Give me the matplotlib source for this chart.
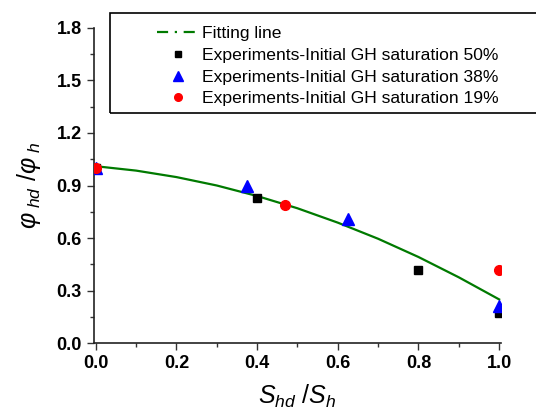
import matplotlib
matplotlib.use("Agg")
import matplotlib.pyplot as plt
from matplotlib.lines import Line2D
from matplotlib.patches import Rectangle
from matplotlib.ticker import MultipleLocator

plt.rcParams['font.family'] = ['Liberation Sans', 'DejaVu Sans']
plt.rcParams['mathtext.fontset'] = 'custom'
plt.rcParams['mathtext.it'] = 'Liberation Sans:italic'
plt.rcParams['mathtext.rm'] = 'Liberation Sans'

# Fitting line
fit_x = [0.0, 0.1, 0.2, 0.3, 0.4, 0.5, 0.6, 0.7, 0.8, 0.9, 1.0]
fit_y = [1.01, 0.985, 0.948, 0.900, 0.840, 0.770, 0.688, 0.596, 0.492, 0.376, 0.25]

# Experiments
s50_x = [0.0, 0.4, 0.8, 1.0]
s50_y = [1.0, 0.83, 0.42, 0.17]
s38_x = [0.0, 0.375, 0.625, 1.0]
s38_y = [1.0, 0.90, 0.71, 0.21]
s19_x = [0.0, 0.47, 1.0]
s19_y = [1.0, 0.79, 0.42]

labels = ["Fitting line",
          "Experiments-Initial GH saturation 50%",
          "Experiments-Initial GH saturation 38%",
          "Experiments-Initial GH saturation 19%"]
xticks = [0.0, 0.2, 0.4, 0.6, 0.8, 1.0]
yticks = [0.0, 0.3, 0.6, 0.9, 1.2, 1.5, 1.8]

W, H = 536, 415
fig = plt.figure(figsize=(W / 100, H / 100), dpi=100)
ax = fig.add_axes([0.175, 0.173, 0.76, 0.76])

green = '#007a00'
ax.plot(fit_x, fit_y, color=green, lw=1.6, zorder=2)
ax.plot(s50_x, s50_y, 's', color='black', ms=6, zorder=3)
ax.plot(s38_x, s38_y, '^', color='#0000ff', ms=8, zorder=4)
ax.plot(s19_x, s19_y, 'o', color='#ff0000', ms=7, zorder=5)

ax.set_xlim(-0.005, 1.005)
ax.set_ylim(0, 1.8)
ax.set_xticks(xticks)
ax.set_yticks(yticks)
ax.set_xticklabels([f"{v:.1f}" for v in xticks])
ax.set_yticklabels([f"{v:.1f}" for v in yticks])
ax.xaxis.set_minor_locator(MultipleLocator(0.1))
ax.yaxis.set_minor_locator(MultipleLocator(0.15))
for lab in ax.get_xticklabels() + ax.get_yticklabels():
    lab.set_fontweight('bold')
    lab.set_fontsize(13)
ax.tick_params(which='major', direction='out', length=5, width=1, color='#333333')
ax.tick_params(which='minor', direction='out', length=3, width=1, color='#333333')
ax.spines['top'].set_visible(False)
ax.spines['right'].set_visible(False)
for s in ['left', 'bottom']:
    ax.spines[s].set_linewidth(1.2)
    ax.spines[s].set_color('#222222')

ax.set_xlabel(r'$S_{hd}\ /S_{h}$', fontsize=18, labelpad=8)
ax.set_ylabel(r'$\varphi_{\ hd}\ /\varphi_{\ h}$', fontsize=18, labelpad=10)

# legend frame (extends past the right edge as in the reference)
fig.patches.append(Rectangle((110 / W, 1 - 113 / H), 440 / W, 100 / H,
                             transform=fig.transFigure, fill=False,
                             edgecolor='black', lw=1.2))

handles = [Line2D([], [], color=green, lw=1.6, ls=(0, (5, 3, 1, 3))),
           Line2D([], [], marker='s', color='black', ls='none', ms=5),
           Line2D([], [], marker='^', color='#0000ff', ls='none', ms=6.5),
           Line2D([], [], marker='o', color='#ff0000', ls='none', ms=5.5)]
leg = fig.legend(handles, labels, loc='upper left',
                 bbox_to_anchor=(157 / W, 1 - 26 / H),
                 fontsize=12.6, frameon=False,
                 handlelength=2.4, handletextpad=0.15, labelspacing=0.37,
                 borderpad=0, borderaxespad=0)

fig.savefig('out.png', dpi=100)
